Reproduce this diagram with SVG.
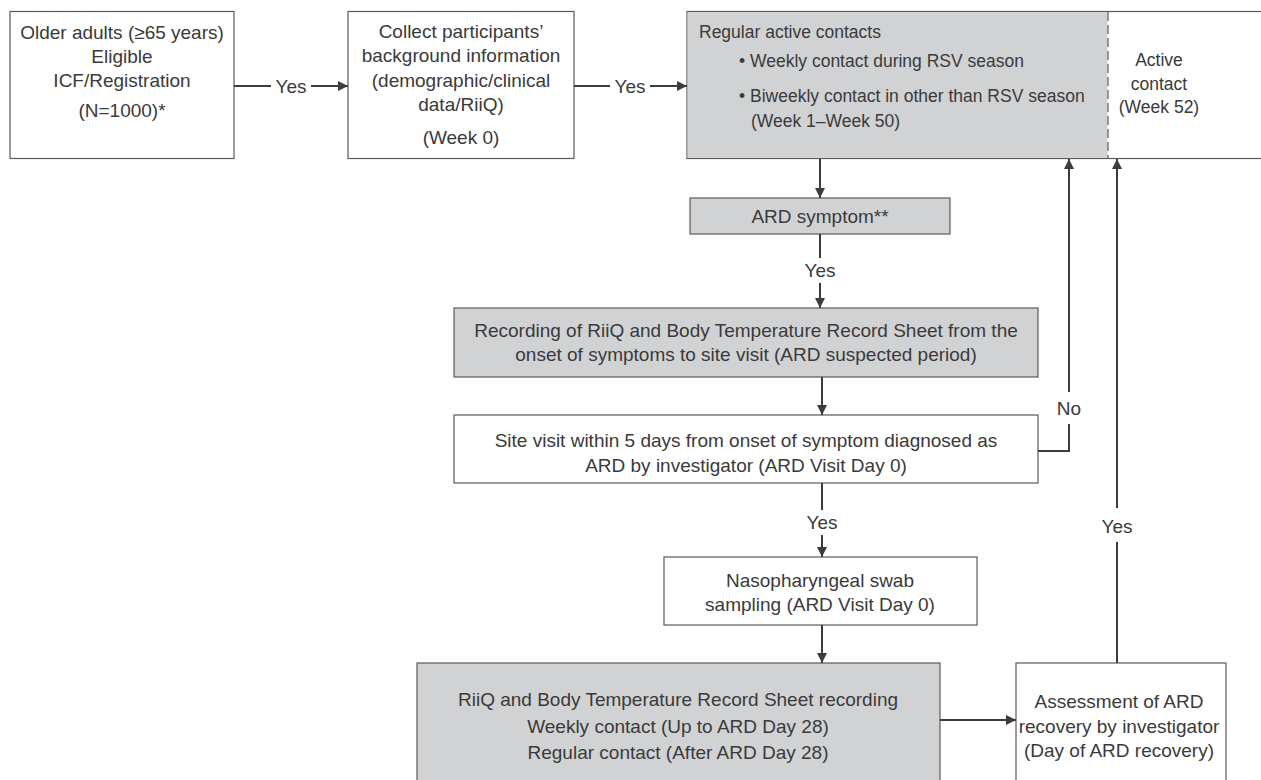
<svg xmlns="http://www.w3.org/2000/svg" width="1261" height="780" viewBox="0 0 1261 780">
<defs>
<marker id="ah" viewBox="0 0 10 10" refX="10" refY="5" markerWidth="10" markerHeight="10" markerUnits="userSpaceOnUse" orient="auto">
<path d="M0,0 L10,5 L0,10 Z" fill="#3c3c3c"/>
</marker>
<style>
text{font-family:"Liberation Sans",Arial,sans-serif;font-size:19px;fill:#3a3a3a}
.c{text-anchor:middle}
.s{font-size:17.5px}
.box{fill:#ffffff;stroke:#5a5a5a;stroke-width:1.2}
.gray{fill:#d1d2d4;stroke:#5a5a5a;stroke-width:1.2}
.ln{fill:none;stroke:#3c3c3c;stroke-width:2}
.arr{fill:none;stroke:#3c3c3c;stroke-width:2;marker-end:url(#ah)}
</style>
</defs>
<rect width="1261" height="780" fill="#ffffff"/>
<g id="n1">
<rect class="box" x="10" y="11.5" width="224" height="147"/>
<text class="c" x="122" y="39">Older adults (≥65 years)</text>
<text class="c" x="122" y="63">Eligible</text>
<text class="c" x="122" y="87">ICF/Registration</text>
<text class="c" x="122" y="117">(N=1000)*</text>
</g>
<g id="n2">
<rect class="box" x="348" y="11.5" width="226" height="147"/>
<text class="c" x="461" y="38">Collect participants’</text>
<text class="c" x="461" y="62">background information</text>
<text class="c" x="461" y="87">(demographic/clinical</text>
<text class="c" x="461" y="111">data/RiiQ)</text>
<text class="c" x="461" y="144">(Week 0)</text>
</g>
<g id="n3">
<rect class="box" x="687" y="11.5" width="576" height="147"/>
<rect x="687.6" y="12.1" width="420" height="145.8" fill="#d1d2d4"/>
<line x1="1108" y1="12" x2="1108" y2="158" stroke="#5a5a5a" stroke-width="1.2" stroke-dasharray="9,4"/>
<text class="s" x="699" y="38">Regular active contacts</text>
<text class="s" x="739" y="67">• Weekly contact during RSV season</text>
<text class="s" x="739" y="102">• Biweekly contact in other than RSV season</text>
<text class="s" x="751" y="127">(Week 1–Week 50)</text>
<text class="c s" x="1159" y="66">Active</text>
<text class="c s" x="1159" y="90">contact</text>
<text class="c s" x="1159" y="113">(Week 52)</text>
</g>
<g id="n4">
<rect class="gray" x="690" y="198" width="260" height="36"/>
<text class="c" x="820" y="223">ARD symptom**</text>
</g>
<g id="n5">
<rect class="gray" x="454" y="308" width="584" height="69"/>
<text class="c" x="746" y="337">Recording of RiiQ and Body Temperature Record Sheet from the</text>
<text class="c" x="746" y="361">onset of symptoms to site visit (ARD suspected period)</text>
</g>
<g id="n6">
<rect class="box" x="454" y="415" width="584" height="68"/>
<text class="c" x="746" y="447">Site visit within 5 days from onset of symptom diagnosed as</text>
<text class="c" x="746" y="472">ARD by investigator (ARD Visit Day 0)</text>
</g>
<g id="n7">
<rect class="box" x="664" y="557" width="313" height="68"/>
<text class="c" x="820" y="587">Nasopharyngeal swab</text>
<text class="c" x="820" y="611">sampling (ARD Visit Day 0)</text>
</g>
<g id="n8">
<rect class="gray" x="417" y="663" width="523" height="120"/>
<text class="c" x="678" y="706">RiiQ and Body Temperature Record Sheet recording</text>
<text class="c" x="678" y="733">Weekly contact (Up to ARD Day 28)</text>
<text class="c" x="678" y="759">Regular contact (After ARD Day 28)</text>
</g>
<g id="n9">
<rect class="box" x="1016" y="663" width="210" height="120"/>
<text class="c" x="1119" y="708">Assessment of ARD</text>
<text class="c" x="1119" y="733">recovery by investigator</text>
<text class="c" x="1119" y="757">(Day of ARD recovery)</text>
</g>
<g id="connectors">
<line class="ln" x1="234" y1="86" x2="271" y2="86"/>
<text class="c" x="291" y="93">Yes</text>
<line class="arr" x1="311" y1="86" x2="348" y2="86"/>
<line class="ln" x1="574" y1="86" x2="610" y2="86"/>
<text class="c" x="630" y="93">Yes</text>
<line class="arr" x1="650" y1="86" x2="687" y2="86"/>
<line class="arr" x1="820" y1="159" x2="820" y2="198"/>
<line class="ln" x1="820" y1="234" x2="820" y2="258"/>
<text class="c" x="820" y="277">Yes</text>
<line class="arr" x1="820" y1="283" x2="820" y2="308"/>
<line class="arr" x1="822" y1="377" x2="822" y2="415"/>
<line class="ln" x1="822" y1="483" x2="822" y2="510"/>
<text class="c" x="822" y="529">Yes</text>
<line class="arr" x1="822" y1="535" x2="822" y2="557"/>
<line class="arr" x1="822" y1="625" x2="822" y2="663"/>
<line class="arr" x1="940" y1="720" x2="1016" y2="720"/>
<polyline class="ln" points="1038,451 1069,451 1069,424"/>
<text class="c" x="1069" y="415">No</text>
<line class="arr" x1="1069" y1="392" x2="1069" y2="159"/>
<line class="ln" x1="1117" y1="663" x2="1117" y2="542"/>
<text class="c" x="1117" y="533">Yes</text>
<line class="arr" x1="1117" y1="508" x2="1117" y2="159"/>
</g>
</svg>
